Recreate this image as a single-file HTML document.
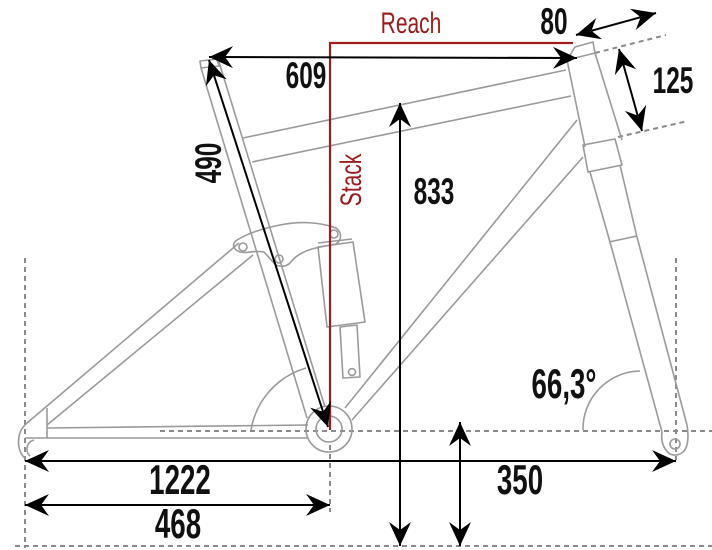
<!DOCTYPE html>
<html><head><meta charset="utf-8"><style>
html,body{margin:0;padding:0;background:#fff;}
svg{display:block;}
.f{fill:none;stroke:#9a9a9a;stroke-width:1.6;stroke-linejoin:round;}
.d{fill:none;stroke:#8a8a8a;stroke-width:2;stroke-dasharray:5 4;}
.a{stroke:#000;stroke-width:2;fill:none;}
.t{font-family:"Liberation Sans",sans-serif;font-weight:bold;fill:#111;}
.r{font-family:"Liberation Sans",sans-serif;fill:#9b1c1c;}
</style></head><body>
<svg width="712" height="550" viewBox="0 0 712 550" xmlns="http://www.w3.org/2000/svg">
<defs>
<marker id="m" viewBox="-26 -12 28 24" refX="0" refY="0" markerWidth="28" markerHeight="24" markerUnits="userSpaceOnUse" orient="auto-start-reverse">
<path d="M0,0 L-24,-11 L-16,0 L-24,11 Z" fill="#000"/>
</marker>
</defs>
<!-- dashed guides -->
<line class="d" x1="25" y1="258" x2="25" y2="548"/>
<line class="d" x1="676" y1="258" x2="676" y2="460"/>
<line class="d" x1="160" y1="431" x2="712" y2="431"/>
<line class="d" x1="15" y1="546" x2="712" y2="546"/>
<line class="d" x1="330" y1="445" x2="330" y2="512"/>
<line class="d" x1="595" y1="53" x2="666" y2="35"/>
<line class="d" x1="618" y1="137" x2="688" y2="121"/>
<!-- frame -->
<g class="f">
<line x1="47" y1="428" x2="308" y2="425"/>
<line x1="25" y1="438" x2="308" y2="438"/>
<line x1="47" y1="408" x2="47" y2="438"/>
<path d="M27,423 C15,433 17,452 25,458 M34,440 C26,442 25,452 30,456"/>
<line x1="27" y1="423" x2="239" y2="243"/>
<line x1="47" y1="425" x2="253" y2="255"/>
<path d="M237,240 C250,232 265,228 280,225 C300,221 320,222 336,228 C342,232 342,240 336,244 L320,247 C305,250 295,256 290,263 C285,268 276,267 273,262 L264,252 C255,250 245,254 240,252 C232,249 232,243 237,240 Z"/>
<circle cx="243" cy="247" r="4"/>
<circle cx="279" cy="259" r="4"/>
<circle cx="334" cy="234" r="4"/>
<line x1="201" y1="68" x2="307" y2="418"/>
<line x1="219" y1="62" x2="325" y2="407"/>
<path d="M200,61 L217,59 L219,66 L201,68 Z"/>
<path d="M318,247 L353,242 L365,322 L327,327 Z"/>
<path d="M318,243 L352,239"/>
<path d="M340,327 L357,325 L360,377 L343,378 Z"/>
<circle cx="352" cy="372" r="3.5"/>
<circle cx="329" cy="429" r="23"/>
<circle cx="329" cy="429" r="13"/>
<line x1="243" y1="138" x2="566" y2="70"/>
<line x1="252" y1="162" x2="571" y2="96"/>
<line x1="345" y1="408" x2="577" y2="120"/>
<line x1="352" y1="420" x2="583" y2="157"/>
<path d="M567,60 L575,47 L593,42 L595,53 Z"/>
<path d="M567,60 L585,147 M595,53 L622,140"/>
<path d="M583,145 L615,139 L622,165 L588,172 Z"/>
<line x1="590" y1="172" x2="610" y2="242"/>
<line x1="620" y1="165" x2="637" y2="237"/>
<line x1="609" y1="242" x2="637" y2="236"/>
<line x1="610" y1="242" x2="662" y2="432"/>
<line x1="637" y1="237" x2="687" y2="425"/>
<path d="M662,432 C660,446 668,456 676,455 C686,454 690,444 687,425"/>
<circle cx="675" cy="444" r="5"/>
<path d="M251,430 A78,78 0 0 1 306,368"/>
<path d="M583,430 A58,58 0 0 1 640,371"/>
</g>
<path d="M330,430 L330,43 L573,43" fill="none" stroke="#a01d1d" stroke-width="2.2"/>
<line class="a" x1="209" y1="57" x2="577" y2="58" marker-start="url(#m)" marker-end="url(#m)"/>
<line class="a" x1="209" y1="60" x2="328" y2="427" marker-start="url(#m)" marker-end="url(#m)"/>
<line class="a" x1="400" y1="103" x2="400" y2="546" marker-start="url(#m)" marker-end="url(#m)"/>
<line class="a" x1="460" y1="422" x2="460" y2="546" marker-start="url(#m)" marker-end="url(#m)"/>
<line class="a" x1="25" y1="461" x2="676" y2="461" marker-start="url(#m)" marker-end="url(#m)"/>
<line class="a" x1="25" y1="505" x2="330" y2="505" marker-start="url(#m)" marker-end="url(#m)"/>
<line class="a" x1="576" y1="35" x2="656" y2="13" marker-start="url(#m)" marker-end="url(#m)"/>
<line class="a" x1="619" y1="49" x2="642" y2="131" marker-start="url(#m)" marker-end="url(#m)"/>
<g class="t" text-anchor="middle">
<text transform="translate(180,494) scale(0.66,1)" font-size="42">1222</text>
<text transform="translate(178,538) scale(0.66,1)" font-size="42">468</text>
<text transform="translate(520,494) scale(0.66,1)" font-size="42">350</text>
<text transform="translate(564,398) scale(0.66,1)" font-size="42">66,3°</text>
<text transform="translate(434,204) scale(0.66,1)" font-size="37">833</text>
<text transform="translate(306,88) scale(0.66,1)" font-size="37">609</text>
<text transform="translate(554,34) scale(0.66,1)" font-size="37">80</text>
<text transform="translate(673,93) scale(0.66,1)" font-size="37">125</text>
<text transform="translate(208,163) rotate(-90) scale(0.66,1)" font-size="37" dy="13" transform-origin="0 0">490</text>
</g>
<text class="r" text-anchor="middle" transform="translate(411,33) scale(0.7,1)" font-size="30">Reach</text>
<text class="r" text-anchor="middle" transform="translate(361,180) rotate(-90) scale(0.7,1)" font-size="30">Stack</text>
</svg>
</body></html>
